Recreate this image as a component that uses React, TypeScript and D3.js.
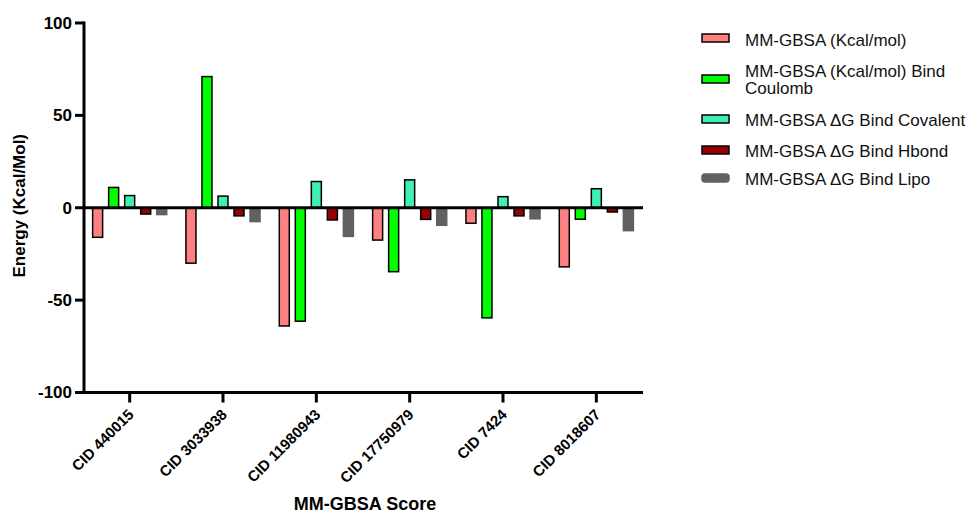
import React from "react";
import * as d3 from "d3";

const categories = ["CID 440015", "CID 3033938", "CID 11980943", "CID 17750979", "CID 7424", "CID 8018607"];
const seriesNames = [
  "MM-GBSA (Kcal/mol)",
  "MM-GBSA (Kcal/mol) Bind Coulomb",
  "MM-GBSA ΔG Bind Covalent",
  "MM-GBSA ΔG Bind Hbond",
  "MM-GBSA ΔG Bind Lipo",
];
const legendLines = [
  ["MM-GBSA (Kcal/mol)"],
  ["MM-GBSA (Kcal/mol) Bind", "Coulomb"],
  ["MM-GBSA ΔG Bind Covalent"],
  ["MM-GBSA ΔG Bind Hbond"],
  ["MM-GBSA ΔG Bind Lipo"],
];
const mmgbsa = [-16, -30, -64, -17.5, -8.4, -32];
const coulomb = [11, 71, -61.4, -34.6, -59.6, -6.2];
const covalent = [6.6, 6.3, 14.2, 15.1, 6, 10.3];
const hbond = [-3.4, -4.4, -6.6, -6.3, -4.4, -2.3];
const lipo = [-3.7, -7.5, -15.5, -9.5, -6, -12.4];
const seriesValues = [mmgbsa, coulomb, covalent, hbond, lipo];
const colors = ["#FF8080", "#00FF00", "#40F0B0", "#990000", "#616161"];
const yTicks = [-100, -50, 0, 50, 100];

const FONT = "Arial, 'Liberation Sans', Helvetica, sans-serif";

export default function App() {
  const W = 971, H = 515;
  const x0 = d3.scaleBand<string>().domain(categories).range([83, 643]).padding(0);
  const x1 = d3.scaleBand<number>().domain(d3.range(5)).range([0, x0.bandwidth()]).paddingInner(0.375).paddingOuter(0.6);
  const y = d3.scaleLinear().domain([-100, 100]).range([392.5, 23]);
  const axisX = 84;

  return (
    <svg width={W} height={H} style={{ position: "absolute", left: 0, top: 0, background: "#fff" }} fontFamily={FONT}>
      {/* bars */}
      {categories.map((c, ci) =>
        seriesValues.map((vals, si) => {
          const v = vals[ci];
          const bx = (x0(c) as number) + (x1(si) as number);
          const top = y(Math.max(0, v));
          const h = Math.abs(y(v) - y(0));
          const isLipo = si === 4;
          return (
            <rect
              key={`${ci}-${si}`}
              x={bx}
              y={top}
              width={x1.bandwidth()}
              height={h}
              fill={colors[si]}
              stroke={isLipo ? colors[si] : "#000"}
              strokeWidth={1.5}
            />
          );
        })
      )}
      {/* zero line */}
      <line x1={axisX} x2={643} y1={y(0)} y2={y(0)} stroke="#000" strokeWidth={3} />
      {/* y axis */}
      <line x1={axisX} x2={axisX} y1={y(100) - 1.5} y2={y(-100) + 1.5} stroke="#000" strokeWidth={3} />
      {yTicks.map((t) => (
        <g key={t}>
          <line x1={axisX - 9} x2={axisX} y1={y(t)} y2={y(t)} stroke="#000" strokeWidth={3} />
          <text x={axisX - 12} y={y(t)} dy="0.35em" textAnchor="end" fontSize={17} fontWeight="bold" fill="#000">
            {t}
          </text>
        </g>
      ))}
      {/* x axis */}
      <line x1={axisX - 1.5} x2={643} y1={y(-100)} y2={y(-100)} stroke="#000" strokeWidth={3} />
      {categories.map((c) => {
        const cx = (x0(c) as number) + x0.bandwidth() / 2;
        return (
          <g key={c}>
            <line x1={cx} x2={cx} y1={y(-100)} y2={y(-100) + 10} stroke="#000" strokeWidth={3} />
            <text
              transform={`translate(${cx + 5},${y(-100) + 23}) rotate(-45)`}
              textAnchor="end"
              fontSize={15}
              fontWeight="bold"
              fill="#000"
            >
              {c}
            </text>
          </g>
        );
      })}
      {/* axis titles */}
      <text x={365} y={510} textAnchor="middle" fontSize={18} fontWeight="bold" fill="#000">
        MM-GBSA Score
      </text>
      <text transform={`translate(25,${y(0) - 2}) rotate(-90)`} textAnchor="middle" fontSize={17} fontWeight="bold" fill="#000">
        Energy (Kcal/Mol)
      </text>
      {/* legend */}
      {legendLines.map((lines, i) => {
        const swY = [38, 79, 119, 150, 178][i];
        const baseY = [46, 76.5, 126, 157, 185][i];
        return (
          <g key={seriesNames[i]}>
            <rect
              x={702}
              y={swY - 4}
              width={27}
              height={8}
              rx={i === 4 ? 3 : 0}
              fill={colors[i]}
              stroke={i === 4 ? colors[i] : "#000"}
              strokeWidth={1.5}
            />
            {lines.map((l, li) => (
              <text key={li} x={745} y={baseY + li * 17.5} fontSize={17} fill="#111">
                {l}
              </text>
            ))}
          </g>
        );
      })}
    </svg>
  );
}
